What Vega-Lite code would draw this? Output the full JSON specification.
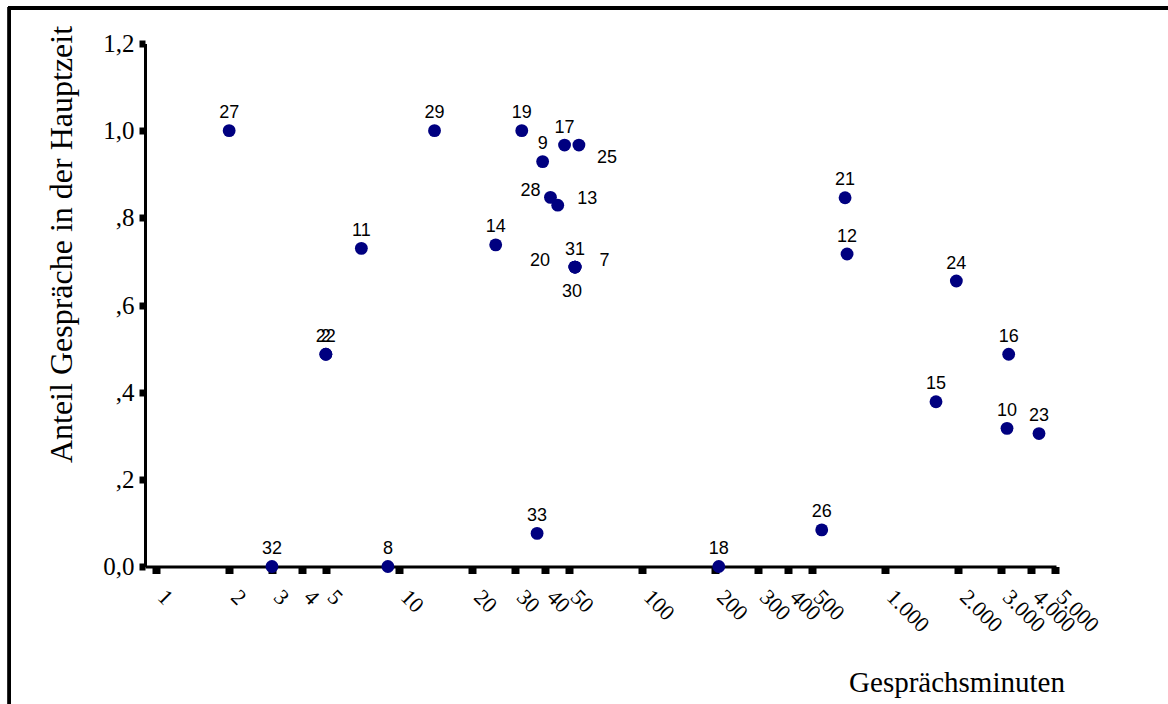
{
  "$schema": "https://vega.github.io/schema/vega-lite/v6.json",
  "width": 911,
  "height": 523,
  "autosize": {"type": "none"},
  "padding": {"left": 145, "top": 43.5, "right": 112, "bottom": 137.5},
  "background": "white",
  "config": {
    "view": {"stroke": null},
    "locale": {"number": {"decimal": ",", "thousands": ".", "grouping": [3], "currency": ["", " €"]}}
  },
  "data": {
    "values": [
      {"id": "27", "minuten": 2, "anteil": 1.0},
      {"id": "11", "minuten": 7, "anteil": 0.73},
      {"id": "22", "minuten": 5, "anteil": 0.487},
      {"id": "2", "minuten": 5, "anteil": 0.487},
      {"id": "32", "minuten": 3, "anteil": 0},
      {"id": "8", "minuten": 9, "anteil": 0},
      {"id": "29", "minuten": 14, "anteil": 1.0},
      {"id": "19", "minuten": 32, "anteil": 1.0},
      {"id": "9", "minuten": 39, "anteil": 0.929},
      {"id": "17", "minuten": 48, "anteil": 0.967},
      {"id": "25", "minuten": 55, "anteil": 0.967},
      {"id": "28", "minuten": 42, "anteil": 0.847},
      {"id": "13", "minuten": 45, "anteil": 0.829},
      {"id": "14", "minuten": 25, "anteil": 0.738},
      {"id": "20", "minuten": 53, "anteil": 0.687},
      {"id": "31", "minuten": 53, "anteil": 0.687},
      {"id": "7", "minuten": 53, "anteil": 0.687},
      {"id": "30", "minuten": 53, "anteil": 0.687},
      {"id": "33", "minuten": 37, "anteil": 0.076},
      {"id": "18", "minuten": 207, "anteil": 0},
      {"id": "26", "minuten": 549, "anteil": 0.084},
      {"id": "21", "minuten": 685, "anteil": 0.846},
      {"id": "12", "minuten": 698, "anteil": 0.717},
      {"id": "15", "minuten": 1621, "anteil": 0.378},
      {"id": "24", "minuten": 1966, "anteil": 0.655},
      {"id": "10", "minuten": 3177, "anteil": 0.317},
      {"id": "16", "minuten": 3228, "anteil": 0.487},
      {"id": "23", "minuten": 4302, "anteil": 0.305}
    ]
  },
  "encoding": {
    "x": {
      "field": "minuten", "type": "quantitative",
      "scale": {"type": "log", "domain": [0.901, 5054], "nice": false, "zero": false},
      "axis": {
        "domain": true, "domainColor": "black", "domainWidth": 3, "grid": false,
        "values": [1, 2, 3, 4, 5, 10, 20, 30, 40, 50, 100, 200, 300, 400, 500, 1000, 2000, 3000, 4000, 5000],
        "format": ",d",
        "tickSize": 7, "tickWidth": 8, "tickColor": "black",
        "labelAngle": 45, "labelAlign": "left", "labelBaseline": "alphabetic", "labelPadding": 24.5,
        "labelFont": "Liberation Serif", "labelFontSize": 22, "labelColor": "black",
        "labelOverlap": false, "labelFlush": false,
        "title": "Gesprächsminuten", "titleFont": "Liberation Serif", "titleFontSize": 29, "titleFontWeight": "normal", "titleColor": "black",
        "titleX": 811.5, "titleY": 124.5, "titleAlign": "center", "titleBaseline": "alphabetic", "titleAngle": 0
      }
    },
    "y": {
      "field": "anteil", "type": "quantitative",
      "scale": {"domain": [0, 1.2], "nice": false, "zero": false},
      "axis": {
        "domain": true, "domainColor": "black", "domainWidth": 3, "grid": false,
        "values": [0, 0.2, 0.4, 0.6, 0.8, 1.0, 1.2],
        "format": ".1f",
        "tickSize": 6, "tickWidth": 7, "tickColor": "black",
        "labelPadding": 5, "labelFont": "Liberation Serif", "labelFontSize": 25, "labelColor": "black",
        "labelAlign": "right", "labelBaseline": "middle",
        "labelOverlap": false, "labelFlush": false,
        "labelExpr": "datum.value > 0.1 && datum.value < 0.9 ? replace(datum.label, '0,', ',') : datum.label",
        "title": "Anteil Gespräche in der Hauptzeit", "titleFont": "Liberation Serif", "titleFontSize": 32, "titleFontWeight": "normal", "titleColor": "black",
        "titleAngle": -90, "titleX": -74, "titleY": 200.5, "titleAlign": "center", "titleBaseline": "alphabetic"
      }
    }
  },
  "layer": [
    {
      "mark": {"type": "circle", "size": 165, "color": "#000080", "opacity": 1}
    },
    {
      "transform": [{"filter": {"not": {"field": "id", "oneOf": ["7", "13", "20", "25", "28", "30"]}}}],
      "mark": {"type": "text", "font": "Liberation Sans", "fontSize": 18, "color": "black", "align": "center", "baseline": "alphabetic", "dy": -12.5},
      "encoding": {"text": {"field": "id"}}
    },
    {
      "transform": [{"filter": {"field": "id", "oneOf": ["7", "13"]}}],
      "mark": {"type": "text", "font": "Liberation Sans", "fontSize": 18, "color": "black", "align": "center", "baseline": "alphabetic", "dx": 29.5, "dy": -1},
      "encoding": {"text": {"field": "id"}}
    },
    {
      "transform": [{"filter": {"field": "id", "equal": "25"}}],
      "mark": {"type": "text", "font": "Liberation Sans", "fontSize": 18, "color": "black", "align": "center", "baseline": "alphabetic", "dx": 28, "dy": 17.5},
      "encoding": {"text": {"field": "id"}}
    },
    {
      "transform": [{"filter": {"field": "id", "equal": "28"}}],
      "mark": {"type": "text", "font": "Liberation Sans", "fontSize": 18, "color": "black", "align": "center", "baseline": "alphabetic", "dx": -20, "dy": -1},
      "encoding": {"text": {"field": "id"}}
    },
    {
      "transform": [{"filter": {"field": "id", "equal": "20"}}],
      "mark": {"type": "text", "font": "Liberation Sans", "fontSize": 18, "color": "black", "align": "center", "baseline": "alphabetic", "dx": -35, "dy": -1.5},
      "encoding": {"text": {"field": "id"}}
    },
    {
      "transform": [{"filter": {"field": "id", "equal": "30"}}],
      "mark": {"type": "text", "font": "Liberation Sans", "fontSize": 18, "color": "black", "align": "center", "baseline": "alphabetic", "dx": -3, "dy": 29.5},
      "encoding": {"text": {"field": "id"}}
    },
    {
      "mark": {"type": "rect", "filled": false, "stroke": "black", "strokeWidth": 3},
      "encoding": {
        "x": {"datum": 0.2494, "type": "quantitative"},
        "x2": {"datum": 16062},
        "y": {"datum": -0.3385, "type": "quantitative"},
        "y2": {"datum": 1.2816}
      }
    }
  ]
}
